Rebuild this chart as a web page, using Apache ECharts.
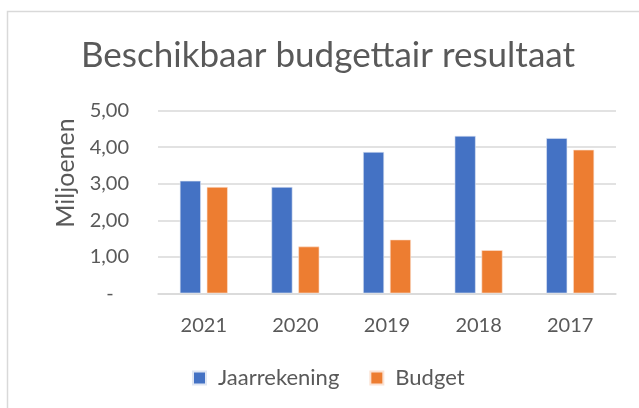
<!DOCTYPE html>
<html>
<head>
<meta charset="utf-8">
<script src="https://cdn.jsdelivr.net/npm/echarts@6/dist/echarts.min.js"></script>
<style>html,body{margin:0;padding:0;background:#fff}#c{width:639px;height:408px}</style>
</head>
<body>
<div id="c"></div>
<script>
const categories = ['2021', '2020', '2019', '2018', '2017'];
const jaarrekening = [3.08, 2.91, 3.87, 4.31, 4.25];
const budget = [2.91, 1.28, 1.47, 1.18, 3.93];
const yTicks = [0, 1, 2, 3, 4, 5];

const FONT = 'Lato, "Open Sans", sans-serif';
const chart = echarts.init(document.getElementById('c'), null, {renderer: 'canvas'});
chart.setOption({
  animation: false,
  backgroundColor: '#fff',
  graphic: [{
    type: 'rect', shape: {x: 7.5, y: 11.5, width: 700, height: 500},
    style: {fill: 'none', stroke: '#d9d9d9', lineWidth: 1.5}, silent: true
  }],
  title: {
    text: 'Beschikbaar budgettair resultaat',
    left: 76, top: 33,
    textStyle: {fontFamily: FONT, fontWeight: 'normal', fontSize: 35, color: '#595959'}
  },
  grid: {left: 158, right: 23, top: 110.7, bottom: 114.7},
  legend: {
    data: ['Jaarrekening', 'Budget'],
    bottom: 14, left: 187,
    itemWidth: 13, itemHeight: 13, itemGap: 30,
    icon: 'rect',
    textStyle: {fontFamily: FONT, fontSize: 22, color: '#595959', padding: [0, 0, 0, 7]}
  },
  xAxis: {
    type: 'category', data: categories,
    axisLine: {lineStyle: {color: '#d9d9d9', width: 1.5}},
    axisTick: {show: false},
    axisLabel: {fontFamily: FONT, fontSize: 20, color: '#595959', margin: 22}
  },
  yAxis: {
    type: 'value', min: 0, max: 5, interval: 1,
    name: 'Miljoenen', nameLocation: 'middle', nameGap: 69, nameRotate: 90,
    nameTextStyle: {fontFamily: FONT, fontSize: 25, color: '#595959', padding: [0, 0, 0, 58]},
    axisLine: {show: false}, axisTick: {show: false},
    splitLine: {lineStyle: {color: '#d9d9d9', width: 1.5}},
    axisLabel: {
      fontFamily: FONT, fontSize: 20, color: '#595959', margin: 29,
      formatter: v => yTicks.includes(v) ? (v === 0 ? '-   ' : v.toFixed(2).replace('.', ',')) : ''
    }
  },
  series: [
    {name: 'Jaarrekening', type: 'bar', data: jaarrekening, barWidth: 21, barGap: '28%',
     itemStyle: {color: '#4472c4', borderColor: '#dfe6f3', borderWidth: 0.6}},
    {name: 'Budget', type: 'bar', data: budget, barWidth: 21,
     itemStyle: {color: '#ed7d31', borderColor: '#fbe2d3', borderWidth: 0.6}}
  ]
});
</script>
</body>
</html>
